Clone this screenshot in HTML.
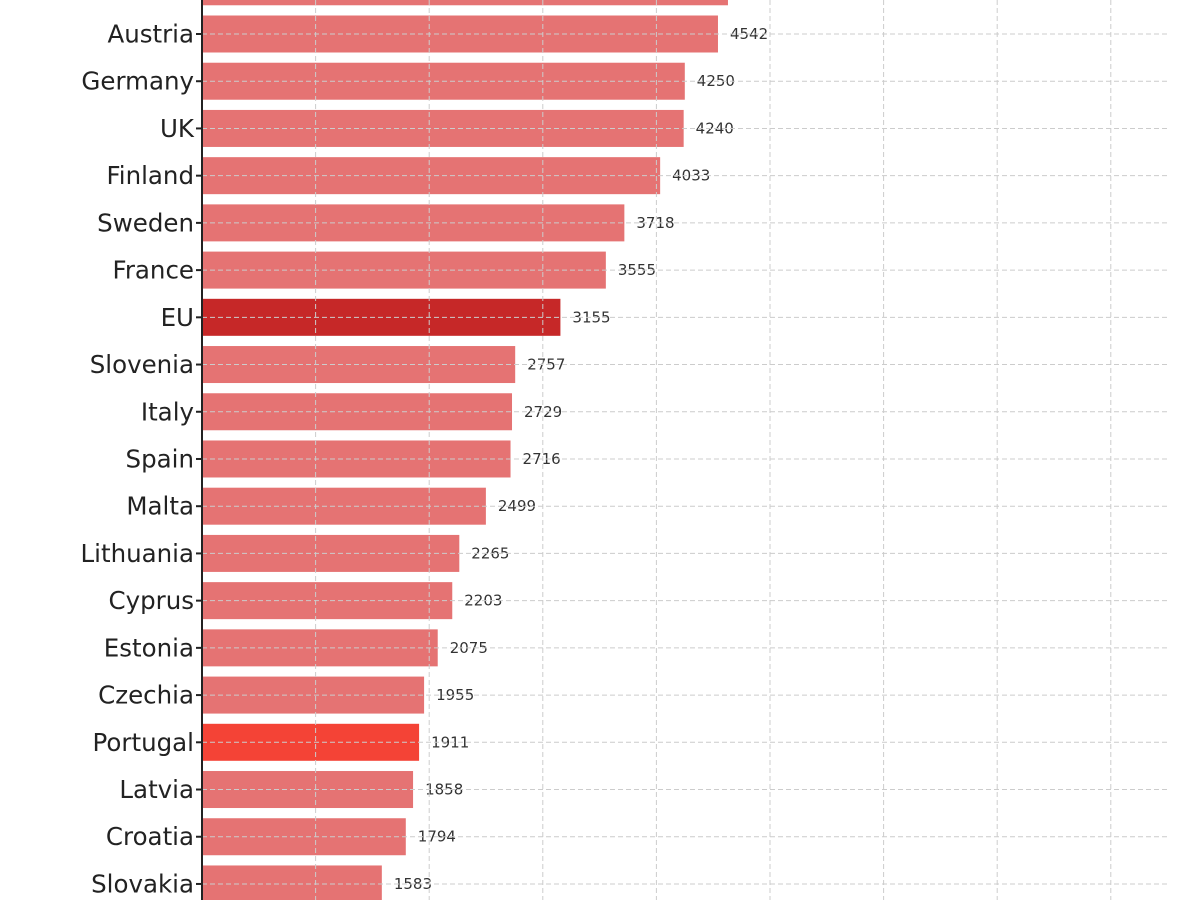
<!DOCTYPE html>
<html><head><style>body{margin:0;background:#fff}</style></head><body>
<svg width="1200" height="900" xmlns="http://www.w3.org/2000/svg" font-family="'DejaVu Sans','Liberation Sans',sans-serif">
<g id="bars"></g>
<script>
const d=[["",4630],["Austria",4542],["Germany",4250],["UK",4240],["Finland",4033],["Sweden",3718],["France",3555],["EU",3155],["Slovenia",2757],["Italy",2729],["Spain",2716],["Malta",2499],["Lithuania",2265],["Cyprus",2203],["Estonia",2075],["Czechia",1955],["Portugal",1911],["Latvia",1858],["Croatia",1794],["Slovakia",1583]];
const ns="http://www.w3.org/2000/svg",g=document.getElementById("bars");
function el(t,a,txt){const e=document.createElementNS(ns,t);for(const k in a)e.setAttribute(k,a[k]);if(txt)e.textContent=txt;g.appendChild(e);return e;}
const s=0.1136,sp=47.22;
d.forEach((r,i)=>{const cy=34+sp*(i-1);const c=r[0]=="EU"?"#c62828":r[0]=="Portugal"?"#f44336":"#e57373";
el("rect",{x:202,y:cy-18.5,width:r[1]*s,height:37,fill:c});
if(r[0]){el("text",{x:194,y:cy+8.5,"font-size":"24.5","text-anchor":"end",fill:"#222"},r[0]);
el("text",{x:202+r[1]*s+12,y:cy+5,"font-size":"15",fill:"#333"},String(r[1]));
el("line",{x1:196,x2:202,y1:cy,y2:cy,stroke:"#222","stroke-width":2});}
});
for(let k=1;k<=8;k++){const x=202+k*113.6;el("line",{x1:x,x2:x,y1:0,y2:900,stroke:"#ccc","stroke-width":1,"stroke-dasharray":"5,3"});}
d.forEach((r,i)=>{if(!r[0])return;const cy=34+sp*(i-1);el("line",{x1:202,x2:1168,y1:cy,y2:cy,stroke:"#ccc","stroke-width":1,"stroke-dasharray":"5,3"});});
el("line",{x1:202,x2:202,y1:0,y2:900,stroke:"#222","stroke-width":2});
</script>
</svg>
</body></html>
